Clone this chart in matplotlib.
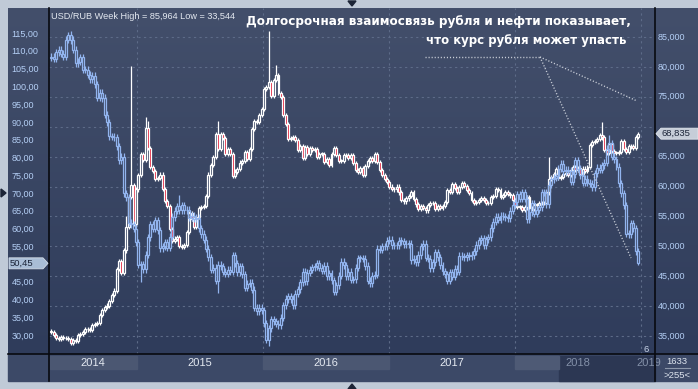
import numpy as np
import pandas as pd
import matplotlib
matplotlib.use('Agg')
import matplotlib.pyplot as plt
from matplotlib import transforms
from matplotlib.patches import Polygon, Rectangle

W, H = 698, 389

# USD/RUB weekly closes (weeks ending on Friday, from 2 May 2014)
rub_2014 = [35.7, 35.1, 34.6, 34.5, 34.8, 34.7, 34.6, 34.5, 33.8,
            34.3, 34.1, 35.1, 35.3, 35.7, 36.2, 36.1, 36.0, 36.9,
            37.0, 37.2, 38.5, 39.4, 39.9, 40.1, 40.9, 41.8, 42.6,
            46.2, 47.5, 45.5, 49.3, 53.3, 58.3, 60.3, 53.7]
rub_2015 = [59.5, 61.9, 65.4, 64.5, 69.7, 66.5, 63.2, 62.6, 61.2,
            61.4, 62.0, 59.6, 57.6, 56.8, 52.9, 50.9, 51.3,
            51.5, 50.0, 49.9, 50.2, 52.4, 55.6, 54.5, 53.3, 54.9,
            56.4, 56.6, 56.7, 58.4, 62.0, 63.6, 64.9, 68.7, 66.3,
            68.8, 68.1, 65.5, 66.2, 65.4, 61.8, 62.5, 62.9, 64.0,
            64.2, 65.7, 64.6, 66.3, 69.6, 71.0, 70.8, 71.9]
rub_2016 = [73.0, 76.3, 76.6, 77.5, 75.2, 77.8, 78.6, 75.6, 74.9,
            72.0, 70.5, 68.0, 68.1, 68.3, 67.8, 66.1, 66.8, 64.8,
            66.6, 65.4, 66.5, 66.1, 66.3, 65.0, 65.4, 65.5,
            64.1, 64.6, 63.6, 65.5, 66.4, 65.2, 64.3, 64.3, 65.3,
            65.2, 64.8, 65.2, 63.9, 62.8, 62.4, 63.1, 62.0, 63.4,
            64.2, 64.8, 64.2, 65.4, 64.1, 62.8, 61.9, 61.2, 60.7]
rub_2017 = [60.0, 59.6, 59.5, 60.0, 59.0, 57.8, 57.5, 58.0,
            58.4, 59.1, 57.9, 57.0, 56.3, 56.8, 56.4, 56.0, 56.9,
            57.3, 57.2, 56.3, 56.7, 56.4, 56.8, 57.4, 59.4, 59.1,
            60.4, 59.8, 59.1, 59.9, 60.6, 60.1, 59.4, 58.9,
            57.8, 57.2, 57.4, 57.8, 58.0, 57.7, 57.2, 57.3, 58.3,
            58.4, 59.6, 59.4, 58.3, 58.6, 59.0, 58.8, 58.5, 57.7]
rub_2018 = [56.8, 56.6, 56.6, 56.1, 56.5, 58.2, 56.4, 56.3,
            56.9, 56.9, 57.2, 57.2, 57.3, 59.0, 61.3, 61.6, 62.1,
            62.9, 61.5, 61.6, 62.1, 62.2, 62.0, 62.8, 63.3, 62.8,
            63.1, 62.1, 63.0, 62.6, 63.3, 66.9, 67.4, 67.6, 68.0,
            68.6, 68.2, 66.1, 65.6, 67.1, 66.0, 65.6, 65.6,
            65.8, 67.6, 66.3, 65.8, 66.8, 66.7, 66.5, 68.3, 68.835]

# Brent weekly closes, same weeks
oil_2014 = [108.6, 108.0, 109.8, 110.5, 109.4, 108.6, 113.4, 114.8, 113.3,
            110.6, 106.7, 107.2, 108.4, 105.0, 105.0, 103.5, 102.3, 103.2,
            100.8, 97.1, 98.4, 97.0, 92.3, 90.2, 86.2, 86.1, 85.9,
            83.4, 79.4, 80.4, 70.2, 69.1, 61.9, 61.4, 60.2]
oil_2015 = [56.4, 50.1, 50.2, 48.8, 52.9, 57.8, 61.5, 60.2, 62.6,
            59.7, 54.7, 55.3, 56.4, 54.9, 57.9, 63.5, 65.3,
            66.5, 65.4, 66.8, 65.4, 65.6, 63.3, 63.9, 63.0, 63.3,
            60.3, 58.7, 57.1, 54.6, 52.2, 48.6, 49.2, 45.5, 50.1,
            49.6, 48.1, 47.5, 48.6, 48.1, 52.7, 50.5, 48.0, 49.6,
            47.4, 43.6, 44.7, 44.9, 43.0, 37.9, 37.0, 37.9]
oil_2016 = [37.3, 33.6, 28.9, 32.2, 34.7, 34.1, 33.4, 33.0, 35.1,
            38.7, 40.4, 41.2, 40.4, 38.7, 41.9, 43.1, 45.1, 48.1,
            45.4, 47.8, 48.7, 49.3, 49.6, 50.5, 49.2, 48.4,
            49.7, 46.8, 47.6, 45.7, 42.5, 44.3, 46.9, 50.9, 49.9,
            46.8, 48.0, 45.8, 45.9, 49.2, 51.9, 51.9, 51.8, 49.7,
            45.6, 44.8, 46.9, 47.2, 54.5, 54.3, 55.2, 55.2, 56.8]
oil_2017 = [57.1, 55.5, 55.5, 55.5, 56.8, 56.7, 55.8, 56.0,
            55.9, 51.4, 51.8, 50.8, 52.8, 55.2, 55.9, 52.0, 51.7,
            49.1, 50.8, 53.6, 52.2, 49.9, 48.2, 47.4, 45.5, 47.9,
            46.7, 48.9, 48.1, 52.5, 52.4, 52.1, 52.7, 52.4,
            52.8, 53.8, 55.6, 56.9, 57.5, 55.6, 57.2, 57.8, 60.4,
            62.1, 63.5, 62.7, 63.9, 63.7, 63.4, 63.2, 65.3, 66.9]
oil_2018 = [67.6, 69.9, 68.6, 70.5, 68.6, 62.8, 64.8, 67.3,
            64.4, 65.5, 66.2, 70.5, 70.3, 67.1, 72.6, 74.1, 74.6,
            74.9, 77.1, 78.5, 76.4, 76.8, 76.5, 73.4, 75.6, 79.4,
            77.1, 75.3, 73.1, 74.3, 73.2, 72.8, 71.8, 75.8, 77.4,
            76.8, 78.1, 78.8, 82.7, 84.2, 80.4, 79.8, 77.6,
            73.0, 70.2, 66.8, 58.8, 58.7, 61.7, 60.3, 53.8, 50.45]

rub_close = rub_2014 + rub_2015 + rub_2016 + rub_2017 + rub_2018
oil_close = oil_2014 + oil_2015 + oil_2016 + oil_2017 + oil_2018
rub_first_open = 35.9
oil_first_open = 108.3

# weeks with long shadows: (high, low), None = ordinary shadow
rub_extremes = {'2014-06-27': (None, 33.544), '2014-12-05': (55.0, None),
                '2014-12-19': (80.1, None), '2015-01-30': (71.6, None),
                '2015-02-06': (71.0, None), '2015-08-28': (71.0, None),
                '2016-01-22': (85.964, None), '2016-02-12': (80.3, None),
                '2018-04-13': (65.0, None), '2018-09-14': (70.8, None)}
oil_extremes = {'2014-06-20': (115.7, None), '2015-01-16': (None, 45.2),
                '2015-05-08': (69.6, None), '2015-08-28': (None, 42.2),
                '2016-01-22': (None, 27.1), '2018-10-05': (86.7, None),
                '2018-12-28': (None, 50.0)}
rub_shadow = 0.35
oil_shadow = 1.0

rub_ticks = [35, 40, 45, 50, 55, 60, 65, 70, 75, 80, 85]
oil_ticks = [30, 35, 40, 45, 50, 55, 60, 65, 70, 75, 80, 85, 90, 95, 100, 105, 110, 115]
years = [2014, 2015, 2016, 2017, 2018, 2019]


def ohlc(close, first_open, extremes, shadow, dates):
    c = np.array(close)
    o = np.r_[first_open, c[:-1]]
    hi = np.maximum(o, c) + shadow
    lo = np.minimum(o, c) - shadow
    for d, (eh, el) in extremes.items():
        i = dates.get_loc(pd.Timestamp(d))
        if eh is not None:
            hi[i] = eh
        if el is not None:
            lo[i] = el
    return o, hi, lo, c


def candles(ax, x, o, hi, lo, c, edge, down_face, min_h):
    top = np.maximum(o, c)
    bot = np.minimum(o, c)
    ax.vlines(x, top, hi, color=edge, lw=0.9)
    ax.vlines(x, lo, bot, color=edge, lw=0.9)
    faces = [down_face if cc < oo else 'none' for oo, cc in zip(o, c)]
    ax.bar(x, np.maximum(top - bot, min_h), bottom=bot, width=0.0155,
           color=faces, edgecolor=edge, linewidth=0.9)


week_end = pd.date_range('2014-05-02', periods=len(rub_close), freq='7D')
mon = week_end - pd.Timedelta(days=4)
xs = np.asarray(mon.year + (mon.dayofyear - 1) / np.where(mon.is_leap_year, 366, 365))

fig = plt.figure(figsize=(W / 100, H / 100), dpi=100)
fig.patch.set_facecolor('#c0cad7')

bg = fig.add_axes([0, 0, 1, 1], zorder=0)
bg.set_xlim(0, W)
bg.set_ylim(H, 0)
bg.axis('off')
grad = np.linspace(0, 1, 200)[:, None, None]
top_c = np.array([0x43, 0x4f, 0x6b]) / 255
bot_c = np.array([0x2f, 0x3c, 0x5b]) / 255
bg.imshow(top_c + grad * (bot_c - top_c), extent=(8, W, 354, 8), aspect='auto')
bg.add_patch(Rectangle((8, 354), W - 8, 27, color='#3c4967'))

x0, x1, y0, y1 = 49, 655, 8, 354
ax = fig.add_axes([x0 / W, 1 - y1 / H, (x1 - x0) / W, (y1 - y0) / H], zorder=1)
ax.patch.set_visible(False)
ax.set_xlim(2014.3016, 2019.1111)
ax.set_ylim(31.99, 89.85)
ax.set_yticks(rub_ticks)
ax.set_xticks(years[1:-1] + [2019])
ax.grid(True, color='#5d6b88', lw=0.8, ls=(0, (2, 3)))
ax.set_axisbelow(True)
ax.tick_params(length=0, labelleft=False, labelbottom=False)
for s in ax.spines.values():
    s.set_visible(False)

ax2 = ax.twinx()
ax2.set_zorder(2)
ax2.patch.set_visible(False)
ax2.set_ylim(24.93, 122.32)
ax2.set_yticks([])
for s in ax2.spines.values():
    s.set_visible(False)

o, hi, lo, c = ohlc(rub_close, rub_first_open, rub_extremes, rub_shadow, week_end)
candles(ax, xs, o, hi, lo, c, '#ffffff', '#e0102c', 0.12)
o2, hi2, lo2, c2 = ohlc(oil_close, oil_first_open, oil_extremes, oil_shadow, week_end)
candles(ax2, xs, o2, hi2, lo2, c2, '#92b4ee', 'none', 0.2)

ov = fig.add_axes([0, 0, 1, 1], zorder=3)
ov.set_xlim(0, W)
ov.set_ylim(H, 0)
ov.axis('off')


def px_x(t):
    return ax.transData.transform((t, 0))[0]


def px_y(a, v):
    return H - a.transData.transform((0, v))[1]


# year strip
bands = {2014: '#4b5772', 2016: '#4b5772', 2018: '#4e5a75'}
for yr in years:
    a = max(px_x(yr), x0 + 1)
    b = min(px_x(yr + 1), x1)
    if yr == 2018:
        b = 559
        ov.add_patch(Rectangle((559, 356), x1 - 559, 25, color='#2c3753', zorder=1))
    if yr in bands:
        ov.add_patch(Rectangle((a, 356), b - a, 13, color=bands[yr], zorder=1))
    cx = (max(px_x(yr), x0) + min(px_x(yr + 1), x1)) / 2
    if yr == 2019:
        cx = (px_x(yr) + x1) / 2 + 0.5
    col = '#8390a8' if yr >= 2018 else '#e4e9f1'
    t = ov.text(cx, 363, str(yr), ha='center', va='center', color=col,
                fontsize=8, family='Liberation Sans', zorder=2)
    t.set_clip_box(transforms.Bbox([[x0, 0], [x1, H]]))

# frame lines
ov.plot([x0, x0], [8, 381], color='#080a10', lw=1.2)
ov.plot([x1, x1], [8, 381], color='#080a10', lw=1.2)
ov.plot([8, W], [y1, y1], color='#080a10', lw=1.2)

# last value tags
yo = px_y(ax2, oil_close[-1])
yr_ = px_y(ax, rub_close[-1])

# axis labels (the ones hidden under a tag are left out)
tl = transforms.blended_transform_factory(ov.transData, ax2.transData)
for v in oil_ticks:
    if abs(px_y(ax2, v) - yo) < 9:
        continue
    ov.text(11.5, v, f'{v:.2f}'.replace('.', ','), transform=tl, va='center',
            ha='left', color='#b4cff5', fontsize=6.5, family='Liberation Sans')
tr = transforms.blended_transform_factory(ov.transData, ax.transData)
for v in rub_ticks:
    if abs(px_y(ax, v) - yr_) < 9:
        continue
    ov.text(658, v, f'{v:.3f}'.replace('.', ','), transform=tr, va='center',
            ha='left', color='#b4cff5', fontsize=6.5, family='Liberation Sans')

ov.add_patch(Polygon([(9, yo - 5.5), (43, yo - 5.5), (48, yo), (43, yo + 5.5), (9, yo + 5.5)],
                     closed=True, facecolor='#a9bdd6', edgecolor='#d4dde8', lw=0.6, zorder=4))
ov.text(10, yo, f'{oil_close[-1]:.2f}'.replace('.', ','), va='center', ha='left',
        color='#1b2438', fontsize=6.8, family='Liberation Sans', zorder=5)
ov.add_patch(Polygon([(656, yr_), (661, yr_ - 5.5), (W, yr_ - 5.5), (W, yr_ + 5.5), (661, yr_ + 5.5)],
                     closed=True, facecolor='#c6cdd8', edgecolor='#e2e7ee', lw=0.6, zorder=4))
ov.text(661, yr_, f'{rub_close[-1]:.3f}'.replace('.', ','), va='center', ha='left',
        color='#1b2438', fontsize=6.8, family='Liberation Sans', zorder=5)

# bottom right box
ov.text(677, 362, '1633', ha='center', va='center', color='#dde4ee', fontsize=6.8,
        family='Liberation Sans')
ov.plot([665, 690], [368, 368], color='#8c97aa', lw=0.8)
ov.text(677, 375, '>255<', ha='center', va='center', color='#dde4ee', fontsize=6.8,
        family='Liberation Sans')
ov.text(646, 349, '6', ha='center', va='center', color='#c8d4e8', fontsize=6.8,
        family='Liberation Sans')

# little markers on the frame
ov.add_patch(Polygon([(348, 1), (356, 1), (352, 6)], closed=True, color='#1c2436'))
ov.add_patch(Polygon([(348, 389), (356, 389), (352, 384)], closed=True, color='#1c2436'))
ov.add_patch(Polygon([(1, 189), (1, 197), (6, 193)], closed=True, color='#1c2436'))

# texts
renderer = fig.canvas.get_renderer()


def fit(t, width):
    bb = t.get_window_extent(renderer)
    t.set_fontsize(t.get_fontsize() * width / bb.width)


t = ov.text(51, 18.5, 'USD/RUB Week High = 85,964 Low = 33,544', ha='left',
            va='baseline', color='#e4e9f1', fontsize=7.5, family='Liberation Sans')
fit(t, 184)
t = ov.text(246, 25, 'Долгосрочная взаимосвязь рубля и нефти показывает,', ha='left',
            va='baseline', color='white', fontsize=10, fontweight='bold', family='DejaVu Sans')
fit(t, 385)
t = ov.text(627, 44, 'что курс рубля может упасть', ha='right',
            va='baseline', color='white', fontsize=10, fontweight='bold', family='DejaVu Sans')
fit(t, 201)

dots = dict(color='#c9ced8', lw=1, ls=(0, (0.8, 1.4)))
ov.plot([425, 540], [57, 57], **dots)
ov.plot([540, 637], [57, 101], **dots)
ov.plot([540, 631], [57, 258], **dots)

fig.savefig('out.png', dpi=100, facecolor=fig.get_facecolor())
